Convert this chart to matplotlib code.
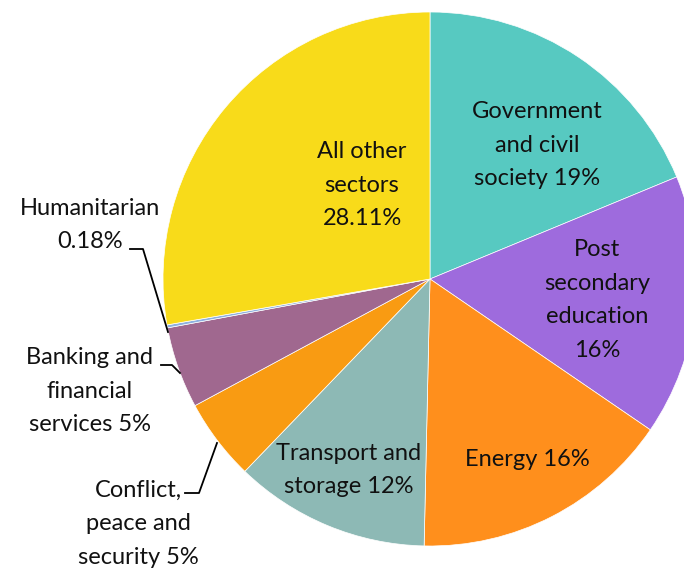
import matplotlib
matplotlib.use("Agg")
import matplotlib.pyplot as plt

sectors = ["Government and civil society", "Post secondary education", "Energy",
           "Transport and storage", "Conflict, peace and security",
           "Banking and financial services", "Humanitarian", "All other sectors"]
shares = [19, 16, 16, 12, 5, 5, 0.18, 28.11]
labels = ["Government\nand civil\nsociety 19%", "Post\nsecondary\neducation\n16%", "Energy 16%",
          "Transport and\nstorage 12%", "Conflict,\npeace and\nsecurity 5%",
          "Banking and\nfinancial\nservices 5%", "Humanitarian\n0.18%", "All other\nsectors\n28.11%"]
colors = ["#57C9C1", "#9E6BDD", "#FF8F1C", "#8DB9B5", "#F99B12", "#A0688F", "#8DB0E0", "#F8DB1A"]

plt.rcParams['font.family'] = ['Lato', 'DejaVu Sans']
W, H = 684, 568
fig = plt.figure(figsize=(W/100, H/100), dpi=100)
ax = fig.add_axes([0, 0, 1, 1])

cx, cy, r = 430, H - 279, 267
ax.pie(shares, colors=colors, startangle=90, counterclock=False, center=(cx, cy), radius=r,
       wedgeprops=dict(linewidth=0.5, edgecolor='white'), frame=True)
ax.set_xlim(0, W)
ax.set_ylim(0, H)
ax.axis('off')

fs = 17
ls = 1.75
def txt(x, y, s, ha='center'):
    ax.text(x, H - y, s, ha=ha, va='center', fontsize=fs, linespacing=ls, color='#111111')

txt(537, 145, labels[0])
txt(597, 300, labels[1])
txt(527, 459, labels[2])
txt(349, 470, labels[3])
txt(138, 524, labels[4])
txt(90, 391, labels[5])
txt(90, 225, labels[6])
txt(362, 185, labels[7])

def leader(pts):
    xs = [p[0] for p in pts]
    ys = [H - p[1] for p in pts]
    ax.plot(xs, ys, color='black', lw=1.3)

leader([(130, 249), (143, 249), (168, 332)])
leader([(161, 365), (172, 365), (180, 373)])
leader([(185, 493), (199, 493), (217, 443)])

fig.savefig("out.png", dpi=100)
